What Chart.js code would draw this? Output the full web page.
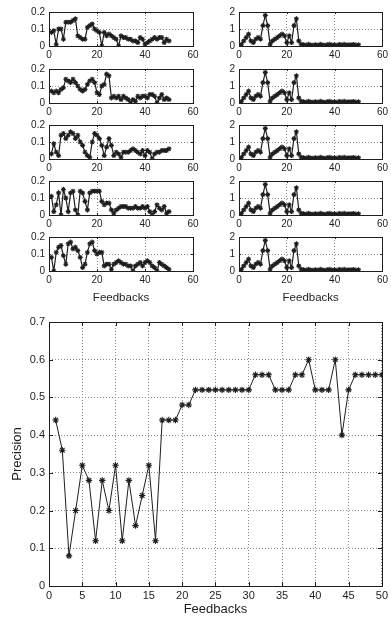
<!DOCTYPE html>
<html>
<head>
<meta charset="utf-8">
<script src="https://cdn.jsdelivr.net/npm/chart.js@4.4.1/dist/chart.umd.min.js"></script>
<style>
    html, body { margin: 0; padding: 0; background: #fff; }
    #figure { position: relative; width: 391px; height: 623px; overflow: hidden; background: #fff; }
    #figure canvas { position: absolute; }
</style>
</head>
<body>
<div id="figure"></div>
<script>
// Feedback index (x values shared by every panel)
const feedbacks = [1, 2, 3, 4, 5, 6, 7, 8, 9, 10, 11, 12, 13, 14, 15, 16, 17, 18, 19, 20,
    21, 22, 23, 24, 25, 26, 27, 28, 29, 30, 31, 32, 33, 34, 35, 36, 37, 38, 39, 40,
    41, 42, 43, 44, 45, 46, 47, 48, 49, 50];

// Left column, one run per row
const leftRun1 = [0.08, 0.09, 0.01, 0.10, 0.10, 0.04, 0.14, 0.14, 0.14, 0.15, 0.16, 0.06, 0.05, 0.04, 0.04, 0.11, 0.12, 0.13, 0.10, 0.09,
    0.08, 0.00, 0.08, 0.06, 0.07, 0.06, 0.05, 0.04, 0.00, 0.06, 0.05, 0.05, 0.04, 0.04, 0.03, 0.03, 0.02, 0.05, 0.04, 0.01,
    0.02, 0.03, 0.04, 0.05, 0.04, 0.05, 0.05, 0.02, 0.04, 0.03];
const leftRun2 = [0.07, 0.06, 0.07, 0.06, 0.08, 0.09, 0.14, 0.13, 0.12, 0.14, 0.12, 0.10, 0.08, 0.07, 0.08, 0.11, 0.13, 0.14, 0.12, 0.06,
    0.05, 0.10, 0.11, 0.17, 0.16, 0.03, 0.04, 0.03, 0.04, 0.02, 0.04, 0.03, 0.02, 0.00, 0.02, 0.01, 0.04, 0.03, 0.04, 0.04,
    0.03, 0.05, 0.05, 0.04, 0.00, 0.03, 0.05, 0.02, 0.03, 0.02];
const leftRun3 = [0.03, 0.09, 0.04, 0.02, 0.14, 0.15, 0.12, 0.14, 0.16, 0.15, 0.12, 0.14, 0.10, 0.08, 0.04, 0.02, 0.01, 0.10, 0.15, 0.14,
    0.12, 0.08, 0.02, 0.07, 0.12, 0.08, 0.02, 0.04, 0.03, 0.01, 0.04, 0.04, 0.04, 0.05, 0.06, 0.05, 0.04, 0.03, 0.05, 0.02,
    0.05, 0.04, 0.00, 0.03, 0.04, 0.04, 0.05, 0.05, 0.05, 0.06];
const leftRun4 = [0.11, 0.02, 0.06, 0.13, 0.00, 0.15, 0.10, 0.02, 0.13, 0.14, 0.03, 0.00, 0.14, 0.13, 0.08, 0.03, 0.13, 0.14, 0.14, 0.14,
    0.14, 0.08, 0.06, 0.07, 0.07, 0.03, 0.01, 0.03, 0.04, 0.05, 0.05, 0.05, 0.04, 0.04, 0.04, 0.05, 0.04, 0.04, 0.05, 0.04,
    0.05, 0.02, 0.00, 0.02, 0.06, 0.04, 0.03, 0.05, 0.01, 0.02];
const leftRun5 = [0.08, 0.00, 0.11, 0.14, 0.15, 0.09, 0.04, 0.16, 0.17, 0.13, 0.14, 0.12, 0.08, 0.02, 0.04, 0.11, 0.16, 0.17, 0.12, 0.10,
    0.11, 0.11, 0.03, 0.04, 0.04, 0.01, 0.04, 0.05, 0.06, 0.05, 0.04, 0.04, 0.03, 0.03, 0.00, 0.03, 0.04, 0.05, 0.03, 0.05,
    0.06, 0.05, 0.03, 0.02, 0.00, 0.05, 0.04, 0.03, 0.02, 0.01];

// Right column (the five runs look the same)
const rightRun = [0.1, 0.3, 0.5, 0.7, 0.3, 0.2, 0.4, 0.5, 0.4, 1.2, 1.8, 1.2, 0.1, 0.3, 0.4, 0.5, 0.6, 0.7, 0.6, 0.2,
    0.6, 0.2, 1.2, 1.6, 0.3, 0.1, 0.08, 0.05, 0.1, 0.06, 0.04, 0.08, 0.05, 0.1, 0.06, 0.04, 0.08, 0.1, 0.05, 0.07,
    0.04, 0.09, 0.06, 0.1, 0.05, 0.08, 0.06, 0.09, 0.05, 0.07];

// Bottom panel
const precision = [0.44, 0.36, 0.08, 0.20, 0.32, 0.28, 0.12, 0.28, 0.20, 0.32, 0.12, 0.28, 0.16, 0.24, 0.32, 0.12, 0.44, 0.44, 0.44, 0.48,
    0.48, 0.52, 0.52, 0.52, 0.52, 0.52, 0.52, 0.52, 0.52, 0.52, 0.56, 0.56, 0.56, 0.52, 0.52, 0.52, 0.56, 0.56, 0.60, 0.52,
    0.52, 0.52, 0.60, 0.40, 0.52, 0.56, 0.56, 0.56, 0.56, 0.56];

const INK = '#1e1e1e';
const GRID = '#8a8a8a';
const FONT = "'Liberation Sans', Arial, sans-serif";

// Cadre + petites graduations vers l'intérieur, façon MATLAB
const framePlugin = {
    id: 'frame',
    afterDraw(chart) {
        const { ctx, chartArea: a, scales } = chart;
        const len = chart.options.plugins.frame.tick;
        ctx.save();
        ctx.strokeStyle = INK;
        ctx.lineWidth = 1;
        ctx.beginPath();
        scales.x.ticks.forEach(t => {
            const px = Math.round(scales.x.getPixelForValue(t.value)) + 0.5;
            ctx.moveTo(px, a.bottom); ctx.lineTo(px, a.bottom - len);
            ctx.moveTo(px, a.top); ctx.lineTo(px, a.top + len);
        });
        scales.y.ticks.forEach(t => {
            const py = Math.round(scales.y.getPixelForValue(t.value)) + 0.5;
            ctx.moveTo(a.left, py); ctx.lineTo(a.left + len, py);
            ctx.moveTo(a.right, py); ctx.lineTo(a.right - len, py);
        });
        ctx.stroke();
        ctx.strokeRect(Math.round(a.left) + 0.5, Math.round(a.top) + 0.5, Math.round(a.width), Math.round(a.height));
        ctx.restore();
    }
};

function makeCanvas(left, top, width, height) {
    const c = document.createElement('canvas');
    c.width = width;
    c.height = height;
    c.style.left = left + 'px';
    c.style.top = top + 'px';
    c.style.width = width + 'px';
    c.style.height = height + 'px';
    document.getElementById('figure').appendChild(c);
    return c;
}

function drawPanel(box, values, cfg) {
    const canvas = makeCanvas(box.left, box.top, box.width, box.height);
    return new Chart(canvas.getContext('2d'), {
        type: 'line',
        data: {
            labels: feedbacks,
            datasets: [{
                data: values,
                borderColor: INK,
                borderWidth: cfg.lineWidth,
                pointStyle: 'star',
                pointRadius: cfg.marker,
                pointBorderColor: INK,
                pointBorderWidth: 1.1,
                pointBackgroundColor: INK,
                tension: 0,
                fill: false
            }]
        },
        options: {
            responsive: false,
            animation: false,
            devicePixelRatio: 1,
            layout: { padding: { top: box.padTop, right: box.padRight, left: 0, bottom: 0 } },
            plugins: {
                legend: { display: false },
                tooltip: { enabled: false },
                frame: { tick: cfg.tickLen }
            },
            scales: {
                x: {
                    type: 'linear',
                    min: 0,
                    max: cfg.xMax,
                    afterFit: s => { s.height = box.xHeight; },
                    ticks: { stepSize: cfg.xStep, color: INK, padding: 3, maxRotation: 0, font: { family: FONT, size: cfg.tickSize } },
                    grid: { color: GRID, lineWidth: 1, drawTicks: false },
                    border: { display: false, dash: [1, 2] },
                    title: {
                        display: !!cfg.xTitle,
                        text: cfg.xTitle || '',
                        color: INK,
                        padding: { top: 0, bottom: cfg.xTitlePad || 0 },
                        font: { family: FONT, size: cfg.titleSize }
                    }
                },
                y: {
                    min: 0,
                    max: cfg.yMax,
                    afterFit: s => { s.width = box.yWidth; },
                    ticks: { stepSize: cfg.yStep, color: INK, padding: 4, font: { family: FONT, size: cfg.tickSize } },
                    grid: { color: GRID, lineWidth: 1, drawTicks: false },
                    border: { display: false, dash: [1, 2] },
                    title: {
                        display: !!cfg.yTitle,
                        text: cfg.yTitle || '',
                        color: INK,
                        padding: { top: 10, bottom: 0 },
                        font: { family: FONT, size: cfg.titleSize }
                    }
                }
            }
        },
        plugins: [framePlugin]
    });
}

document.addEventListener('DOMContentLoaded', () => {
    const rowTops = [10, 67, 123, 179, 235];
    const plotH = 36;
    const leftRuns = [leftRun1, leftRun2, leftRun3, leftRun4, leftRun5];

    rowTops.forEach((top, i) => {
        const last = i === rowTops.length - 1;
        const xHeight = last ? 34 : 16;
        const small = {
            marker: 2.5, lineWidth: 1.2, tickLen: 2, tickSize: 10, titleSize: 11.5,
            xMax: 60, xStep: 20,
            xTitle: last ? 'Feedbacks' : null
        };
        // Colonne de gauche (0 – 0.2)
        drawPanel(
            { left: 0, top: top - 8, width: 215, height: 8 + plotH + xHeight, padTop: 8, padRight: 215 - 193, yWidth: 49, xHeight },
            leftRuns[i],
            { ...small, yMax: 0.2, yStep: 0.1 }
        );
        // Colonne de droite (0 – 2)
        drawPanel(
            { left: 200, top: top - 8, width: 191, height: 8 + plotH + xHeight, padTop: 8, padRight: 4, yWidth: 39, xHeight },
            rightRun,
            { ...small, yMax: 2, yStep: 1 }
        );
    });

    // Grand graphique du bas
    drawPanel(
        { left: 0, top: 300, width: 391, height: 323, padTop: 22, padRight: 7, yWidth: 49, xHeight: 37 },
        precision,
        { marker: 3.2, lineWidth: 1, tickLen: 4, tickSize: 11, titleSize: 13, xMax: 50, xStep: 5, yMax: 0.7, yStep: 0.1,
          xTitle: 'Feedbacks', xTitlePad: 6, yTitle: 'Precision' }
    );
});
</script>
</body>
</html>
